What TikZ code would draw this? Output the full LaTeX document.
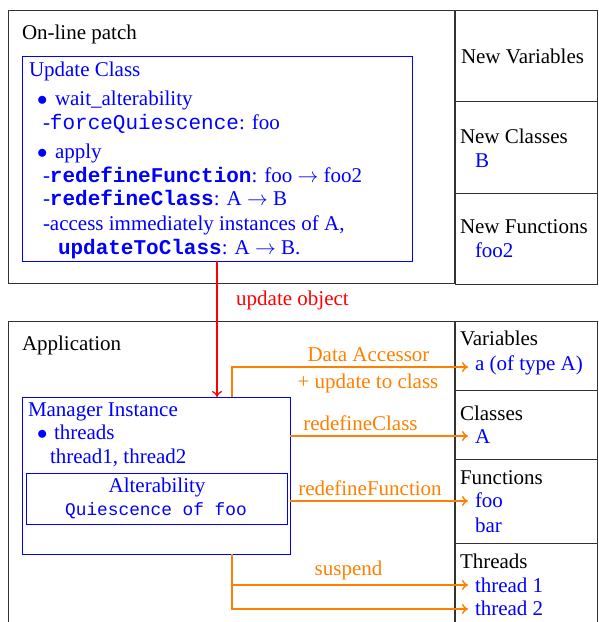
\documentclass[tikz,border=0pt]{standalone}
\usepackage{fontspec}
\setmainfont{Liberation Serif}
\setmonofont{Liberation Mono}
\usetikzlibrary{arrows.meta}
\definecolor{orng}{RGB}{255,128,0}
\begin{document}
\begin{tikzpicture}[x=1pt,y=-1pt, font=\fontsize{21}{24}\selectfont,
  frame/.style={draw=black!80, line width=0.9pt, inner sep=0pt, outer sep=0pt, anchor=north west},
  bluebox/.style={draw=blue, line width=0.9pt, inner sep=0pt, outer sep=0pt, anchor=north west},
  txt/.style={anchor=base west, inner sep=0pt, outer sep=0pt},
  btxt/.style={txt, text=blue},
  ctxt/.style={anchor=base, inner sep=0pt, outer sep=0pt},
  otxt/.style={ctxt, text=orng},
  oarrow/.style={draw=orng, line width=1.5pt, -{To[length=6pt,width=10pt]}},
  rarrow/.style={draw=red, line width=1.3pt, -{To[length=6pt,width=10pt]}},
]
\clip (0,0) rectangle (598,622);
% ---------- top part ----------
\node[frame, minimum width=446pt, minimum height=273pt] (patch) at (8,10) {};
\node[frame, minimum width=142pt, minimum height=91pt] (newvar) at (455,10) {};
\node[frame, minimum width=142pt, minimum height=92pt] (newcls) at (455,101) {};
\node[frame, minimum width=142pt, minimum height=91pt] (newfun) at (455,193) {};
\node[bluebox, minimum width=389.5pt, minimum height=205pt] (uc) at (22.5,56) {};

\node[txt] (patchlbl) at (22,39) {On-line patch};
\node[btxt] (uctitle) at (29,76) {Update Class};
\node[btxt] (b1) at (37,105) {$\bullet$};
\node[btxt] (wait) at (55,105) {wait\_alterability};
\node[btxt] (force) at (43,129) {-\texttt{forceQuiescence}: foo};
\node[btxt] (b2) at (37,158) {$\bullet$};
\node[btxt] (apply) at (55,158) {apply};
\node[btxt] (redf) at (43,182) {-\texttt{\textbf{redefineFunction}}: foo $\rightarrow$ foo2};
\node[btxt] (redc) at (43,205) {-\texttt{\textbf{redefineClass}}: A $\rightarrow$ B};
\node[btxt] (acc) at (43,230) {-access immediately instances of A,};
\node[btxt] (upd) at (58,254) {\texttt{\textbf{updateToClass}}: A $\rightarrow$ B.};

\node[txt] (newvarlbl) at (461,63) {New Variables};
\node[txt] (newclslbl) at (460,143) {New Classes};
\node[btxt] (newB) at (475,167) {B};
\node[txt] (newfunlbl) at (460,233) {New Functions};
\node[btxt] (newfoo) at (475,257) {foo2};

% ---------- bottom part ----------
\node[frame, minimum width=446pt, minimum height=330pt] (app) at (8,321) {};
\node[frame, minimum width=142pt, minimum height=69pt] (vars) at (455,321) {};
\node[frame, minimum width=142pt, minimum height=69pt] (classes) at (455,390) {};
\node[frame, minimum width=142pt, minimum height=84pt] (funcs) at (455,459) {};
\node[frame, minimum width=142pt, minimum height=110pt] (threads) at (455,543) {};
\node[bluebox, minimum width=267.5pt, minimum height=157pt] (mi) at (22.5,397) {};
\node[bluebox, minimum width=260.5pt, minimum height=51pt] (alt) at (26.5,473) {};

\node[txt] (applbl) at (22,350) {Application};
\node[btxt] (mititle) at (28,416) {Manager Instance};
\node[btxt] (b3) at (37,439) {$\bullet$};
\node[btxt] (thr) at (54,439) {threads};
\node[btxt] (thrs) at (50,463) {thread1, thread2};
\node[ctxt, text=blue] (alttitle) at (157,492) {Alterability};
\node[ctxt, text=blue, font=\fontsize{17.8}{20}\selectfont] (altq) at (156,515) {\texttt{Quiescence of foo}};

\node[txt] (varslbl) at (460,345) {Variables};
\node[btxt] (vara) at (475,370) {a (of type A)};
\node[txt] (clslbl) at (460,420) {Classes};
\node[btxt] (clsA) at (475,443) {A};
\node[txt] (funlbl) at (460,484) {Functions};
\node[btxt] (funfoo) at (475,507) {foo};
\node[btxt] (funbar) at (475,532) {bar};
\node[txt] (thrlbl) at (460,568) {Threads};
\node[btxt] (thr1) at (475,592) {thread 1};
\node[btxt] (thr2) at (475,615) {thread 2};

% ---------- connectors ----------
\coordinate (rx) at (217,0);
\coordinate (ox) at (232,0);
\coordinate (tVar) at (468,367);
\coordinate (tCls) at (468,436);
\coordinate (tFoo) at (468,501);
\coordinate (tT1) at (468,585);
\coordinate (tT2) at (468,609);

\draw[rarrow] (uc.south -| rx) -- (mi.north -| rx);
\node[ctxt, text=red] (updobj) at (292.5,305) {update object};

\draw[oarrow] (mi.north -| ox) |- (tVar);
\draw[oarrow] (mi.east |- tCls) -- (tCls);
\draw[oarrow] (mi.east |- tFoo) -- (tFoo);
\draw[oarrow] (mi.south -| ox) |- (tT1);
\draw[oarrow] (mi.south -| ox) |- (tT2);

\node[otxt] (da) at (368.5,361) {Data Accessor};
\node[otxt] (utc) at (368,388) {+ update to class};
\node[otxt] (rcl) at (360.5,430) {redefineClass};
\node[otxt] (rfn) at (370,495) {redefineFunction};
\node[otxt] (susp) at (348.5,575) {suspend};
\end{tikzpicture}
\end{document}
